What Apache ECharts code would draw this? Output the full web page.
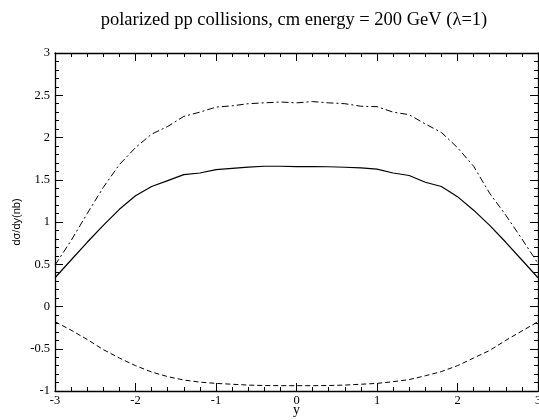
<!DOCTYPE html>
<html><head><meta charset="utf-8">
<script src="https://cdn.jsdelivr.net/npm/echarts@6/dist/echarts.min.js"></script>
<style>html,body{margin:0;padding:0;background:#fff}#c{width:539px;height:420px}</style>
</head><body><div id="c"></div>
<script>
const titleText = 'polarized pp collisions, cm energy = 200 GeV (\u03bb=1)';
const xName = 'y';
const yName = 'd\u03c3/dy(nb)';
const xVals = [-3.0,-2.8,-2.6,-2.4,-2.2,-2.0,-1.8,-1.6,-1.4,-1.2,-1.0,-0.8,-0.6,-0.4,-0.2,0.0,0.2,0.4,0.6,0.8,1.0,1.2,1.4,1.6,1.8,2.0,2.2,2.4,2.6,2.8,3.0];
const solidVals = [0.34,0.55,0.76,0.96,1.15,1.31,1.42,1.49,1.56,1.58,1.62,1.635,1.65,1.66,1.66,1.655,1.655,1.654,1.648,1.64,1.625,1.58,1.55,1.47,1.42,1.30,1.14,0.96,0.76,0.55,0.34];
const dashDotVals = [0.49,0.78,1.10,1.41,1.68,1.88,2.04,2.13,2.25,2.30,2.36,2.375,2.40,2.41,2.42,2.41,2.425,2.41,2.40,2.37,2.365,2.30,2.27,2.16,2.06,1.88,1.66,1.34,1.08,0.80,0.51];
const dashedVals = [-0.18,-0.28,-0.39,-0.51,-0.61,-0.70,-0.775,-0.83,-0.87,-0.895,-0.91,-0.92,-0.93,-0.935,-0.937,-0.937,-0.937,-0.935,-0.93,-0.92,-0.91,-0.89,-0.865,-0.82,-0.77,-0.70,-0.61,-0.52,-0.40,-0.29,-0.18];

const pair = v => xVals.map((x,i)=>[x,v[i]]);
const font = '"Liberation Serif","Times New Roman",serif';
const tick = {show:true, inside:true, length:8, lineStyle:{color:'#000',width:1}};
const minor = {show:true, splitNumber:5, length:4, lineStyle:{color:'#000',width:1}};
const line = {show:true, onZero:false, lineStyle:{color:'#000',width:1.3}};
const chart = echarts.init(document.getElementById('c'));
chart.setOption({
  animation:false,
  backgroundColor:'#fff',
  title:{text:titleText, left:289, top:6, textAlign:'center',
    textStyle:{fontFamily:font, fontSize:18.5, fontWeight:'normal', color:'#000'}},
  grid:{left:55, right:1, top:53, bottom:29, containLabel:false, outerBoundsMode:'none'},
  xAxis:[
    {type:'value', position:'bottom', min:-3, max:3, interval:1, axisLine:line, axisTick:tick, minorTick:minor,
     splitLine:{show:false},
     axisLabel:{color:'#000', fontFamily:font, fontSize:12.5, margin:3, showMaxLabel:true, showMinLabel:true, hideOverlap:false},
     name:xName, nameLocation:'middle', nameGap:12, nameMoveOverlap:false,
     nameTextStyle:{color:'#000', fontFamily:font, fontSize:14}},
    {type:'value', position:'top', min:-3, max:3, interval:1, axisLine:line, axisTick:tick, minorTick:minor,
     splitLine:{show:false}, axisLabel:{show:false}}
  ],
  yAxis:[
    {type:'value', position:'left', min:-1, max:3, interval:0.5, axisLine:line, axisTick:tick, minorTick:minor,
     splitLine:{show:false},
     axisLabel:{color:'#000', fontFamily:font, fontSize:12.5, margin:5},
     name:yName, nameLocation:'middle', nameGap:33, nameRotate:90, nameMoveOverlap:false,
     nameTextStyle:{color:'#000', fontFamily:'"Liberation Sans",Arial,sans-serif', fontSize:11}},
    {type:'value', position:'right', min:-1, max:3, interval:0.5, axisLine:line, axisTick:tick, minorTick:minor,
     splitLine:{show:false}, axisLabel:{show:false}}
  ],
  series:[
    {type:'line', data:pair(solidVals), showSymbol:false, symbol:'none', lineStyle:{color:'#000', width:1.2, type:'solid'}},
    {type:'line', data:pair(dashDotVals), showSymbol:false, symbol:'none', lineStyle:{color:'#000', width:1, type:[7,3,2,3]}},
    {type:'line', data:pair(dashedVals), showSymbol:false, symbol:'none', lineStyle:{color:'#000', width:1, type:[5,3]}}
  ]
});
</script></body></html>
